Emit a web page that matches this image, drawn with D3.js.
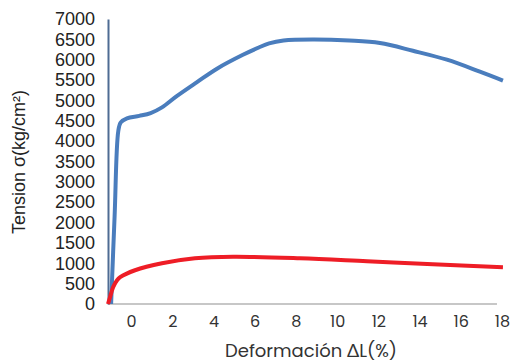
<!DOCTYPE html>
<html>
<head>
<meta charset="utf-8">
<script src="https://cdn.jsdelivr.net/npm/d3@7"></script>
<style>
  body { margin: 0; background: #fff; }
  svg { display: block; }
</style>
</head>
<body>
<svg id="chart" width="517" height="362"></svg>
<script>
// strain (%) vs stress (kg/cm2)
const blueStrain = [-0.97, -0.8, -0.62, -0.5, -0.2, 0.4, 0.95, 1.5, 2.2, 3.2, 4.17, 5.43, 6.2, 6.7, 7.4, 8.8, 10.6, 12.08, 13.68, 15.33, 16.93, 18.05];
const blueStress = [0, 2150, 4250, 4460, 4560, 4620, 4690, 4830, 5100, 5450, 5780, 6120, 6300, 6400, 6470, 6495, 6470, 6410, 6220, 6000, 5707, 5488];

const redStrain = [-1.12, -1.02, -0.87, -0.68, -0.53, 0.19, 1.5, 3.1, 4.95, 8.2, 11.45, 14.65, 18.05];
const redStress = [0, 170, 415, 585, 659, 829, 1000, 1122, 1160, 1122, 1049, 976, 902];

const xTicks = [0, 2, 4, 6, 8, 10, 12, 14, 16, 18];
const yTicks = d3.range(0, 7001, 500);

const xTitle = "Deformación ΔL(%)";
const yTitle = "Tension σ(kg/cm²)";

const svg = d3.select("#chart");
const margin = {top: 19, right: 15, bottom: 58, left: 108};
const width = +svg.attr("width");
const height = +svg.attr("height");

const x = d3.scaleLinear()
  .domain([-1.12, 18.15])
  .range([margin.left, width - 12]);
const y = d3.scaleLinear()
  .domain([0, 7000])
  .range([height - margin.bottom, margin.top]);

// x axis: grey baseline, no tick marks
svg.append("line")
  .attr("x1", x(-1.12)).attr("x2", x(17.76))
  .attr("y1", y(0)).attr("y2", y(0))
  .attr("stroke", "#b4b4b4")
  .attr("stroke-width", 1.5);

const xAxis = svg.append("g")
  .attr("transform", `translate(0,${y(0) + 9})`)
  .call(d3.axisBottom(x).tickValues(xTicks).tickSize(0));
xAxis.select(".domain").remove();
xAxis.selectAll("text")
  .attr("font-family", "Poppins, Lato, sans-serif")
  .attr("font-size", 16)
  .attr("fill", "#333");

const yAxis = svg.append("g")
  .attr("transform", `translate(${margin.left},0)`)
  .call(d3.axisLeft(y).tickValues(yTicks).tickFormat(d3.format("d")).tickSize(0).tickPadding(13));
yAxis.select(".domain")
  .attr("stroke", "#4f6c93")
  .attr("stroke-width", 2);
yAxis.selectAll("text")
  .attr("font-family", "Liberation Sans, Arial, sans-serif")
  .attr("font-size", 18)
  .attr("fill", "#222");

const line = d3.line()
  .x(d => x(d[0]))
  .y(d => y(d[1]))
  .curve(d3.curveCatmullRom.alpha(0.5));

svg.append("path")
  .datum(blueStrain.map((v, i) => [v, blueStress[i]]))
  .attr("fill", "none")
  .attr("stroke", "#4a7dbd")
  .attr("stroke-width", 4)
  .attr("stroke-linejoin", "round")
  .attr("d", line);

svg.append("path")
  .datum(redStrain.map((v, i) => [v, redStress[i]]))
  .attr("fill", "none")
  .attr("stroke", "#ee1d26")
  .attr("stroke-width", 4)
  .attr("stroke-linejoin", "round")
  .attr("d", line);

svg.append("text")
  .attr("x", 311)
  .attr("y", 357)
  .attr("text-anchor", "middle")
  .attr("font-family", "Poppins, Lato, sans-serif")
  .attr("font-size", 18)
  .attr("fill", "#333")
  .text(xTitle);

svg.append("text")
  .attr("transform", `translate(25,162) rotate(-90)`)
  .attr("text-anchor", "middle")
  .attr("font-family", "Liberation Sans, Arial, sans-serif")
  .attr("font-size", 18)
  .attr("fill", "#222")
  .text(yTitle);
</script>
</body>
</html>
